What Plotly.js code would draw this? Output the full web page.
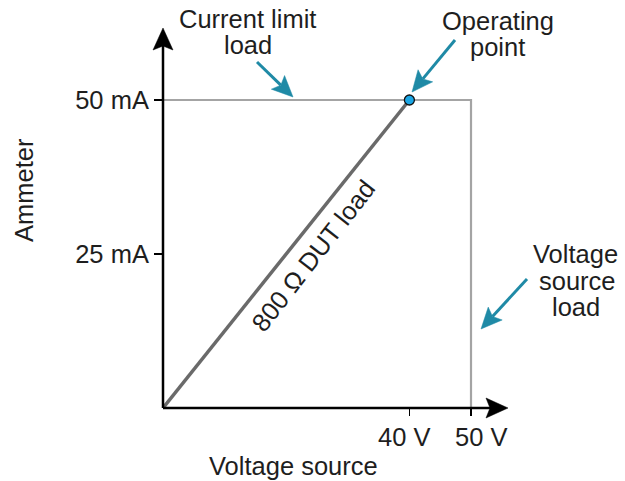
<!DOCTYPE html>
<html><head><meta charset="utf-8">
<script src="https://cdn.plot.ly/plotly-3.0.1.min.js"></script>
<style>html,body{margin:0;padding:0;background:#fff}</style>
</head><body><div id="chart" style="width:625px;height:481px"></div>
<script>
// ---- data ----
const limitV = [0, 50, 50];      // current limit load then voltage source load (V)
const limitI = [50, 50, 0];      // (mA)
const dutV = [0, 40];            // 800 ohm DUT load line
const dutI = [0, 50];
const opV = [40];                // operating point
const opI = [50];
const xTickVals = [40, 50];
const xTickText = ['40 V', '50 V'];
const yTickVals = [25, 50];
const yTickText = ['25 mA', '50 mA'];

// ---- geometry ----
const W = 625, H = 481, L = 163, T = 20, R = 520, B = 408;
const k = 6.16; // px per unit
const X = p => (p - L) / (R - L);
const Y = p => (B - p) / (B - T);
const FONT = 'Liberation Sans, Arial, Helvetica, sans-serif';
const FS = 25.5;
const TXT = '#1e1e1e';
const TEAL = '#1f8aa6';

function headPath(tip, tail, len, hw, notch) {
  const dx = tip[0] - tail[0], dy = tip[1] - tail[1];
  const d = Math.hypot(dx, dy), ux = dx / d, uy = dy / d;
  const nx = -uy, ny = ux;
  const b = [tip[0] - len * ux, tip[1] - len * uy];
  const p1 = [b[0] + hw * nx, b[1] + hw * ny];
  const p2 = [tip[0] - (len - notch) * ux, tip[1] - (len - notch) * uy];
  const p3 = [b[0] - hw * nx, b[1] - hw * ny];
  const f = p => X(p[0]).toFixed(5) + ',' + Y(p[1]).toFixed(5);
  return { path: 'M' + f(tip) + 'L' + f(p1) + 'L' + f(p2) + 'L' + f(p3) + 'Z', inner: p2 };
}

const shapes = [];
function arrow(tail, tip, color, width, len, hw, notch) {
  const h = headPath(tip, tail, len, hw, notch);
  shapes.push({ type: 'line', xref: 'paper', yref: 'paper',
    x0: X(tail[0]), y0: Y(tail[1]), x1: X(h.inner[0]), y1: Y(h.inner[1]),
    line: { color: color, width: width } });
  shapes.push({ type: 'path', xref: 'paper', yref: 'paper', path: h.path,
    fillcolor: color, line: { color: color, width: 0.5 } });
}
// axes with arrows
arrow([L, B], [508, B], '#000', 2.5, 22, 10, 4);
arrow([L, B], [L, 28], '#000', 2.5, 22, 10, 4);
// callout arrows
arrow([257, 62], [293, 97], TEAL, 3, 21, 9.5, 4);
arrow([455, 40], [412, 92], TEAL, 3, 21, 9.5, 4);
arrow([527, 279], [481, 329], TEAL, 3, 21, 9.5, 4);

const annotations = [];
function label(text, x, y, opts) {
  annotations.push(Object.assign({ text: text, xref: 'paper', yref: 'paper',
    x: X(x), y: Y(y), xanchor: 'center', yanchor: 'middle', showarrow: false,
    font: { family: FONT, size: FS, color: TXT } }, opts || {}));
}
label('Current limit', 247, 19);
label('load', 248, 45);
label('Operating', 498, 21);
label('point', 497, 47);
label('Voltage', 575, 254);
label('source', 577, 281);
label('load', 576, 307);
label('Voltage source', 293, 466);
label('Ammeter', 24, 190, { textangle: -90 });
label('800 Ω DUT load', 313, 256, { textangle: -52.2 });
// x tick labels placed at their tick values
const xShift = [-5, 10];
xTickVals.forEach((v, i) => {
  annotations.push({ text: xTickText[i], xref: 'x', yref: 'paper', x: v, y: Y(437),
    xshift: xShift[i], xanchor: 'center', yanchor: 'middle', showarrow: false,
    font: { family: FONT, size: FS, color: TXT } });
});

const traces = [
  { x: limitV, y: limitI, type: 'scatter', mode: 'lines', cliponaxis: false,
    line: { color: '#a4a4a4', width: 2.2 }, hoverinfo: 'skip' },
  { x: dutV, y: dutI, type: 'scatter', mode: 'lines', cliponaxis: false,
    line: { color: '#6a6a6a', width: 3.5 }, hoverinfo: 'skip' },
  { x: opV, y: opI, type: 'scatter', mode: 'markers', cliponaxis: false,
    marker: { size: 10, color: '#1ba6e4', line: { color: '#111', width: 1.3 } }, hoverinfo: 'skip' }
];

const layout = {
  width: W, height: H, showlegend: false,
  paper_bgcolor: '#fff', plot_bgcolor: 'rgba(0,0,0,0)',
  margin: { l: L, r: W - R, t: T, b: H - B, pad: 0 },
  font: { family: FONT, size: FS, color: TXT },
  xaxis: { range: [0, (R - L) / k], showgrid: false, zeroline: false, showline: false,
    tickmode: 'array', tickvals: xTickVals, ticktext: xTickText, showticklabels: false,
    ticks: 'outside', ticklen: 7, tickwidth: 1.5, tickcolor: '#000' },
  yaxis: { range: [0, (B - T) / k], showgrid: false, zeroline: false, showline: false,
    tickmode: 'array', tickvals: yTickVals, ticktext: yTickText,
    ticks: 'outside', ticklen: 8, tickwidth: 1.5, tickcolor: '#000',
    tickfont: { family: FONT, size: FS, color: TXT } },
  shapes: shapes,
  annotations: annotations
};

Plotly.newPlot('chart', traces, layout, { staticPlot: true, displayModeBar: false });
</script>
</body></html>
